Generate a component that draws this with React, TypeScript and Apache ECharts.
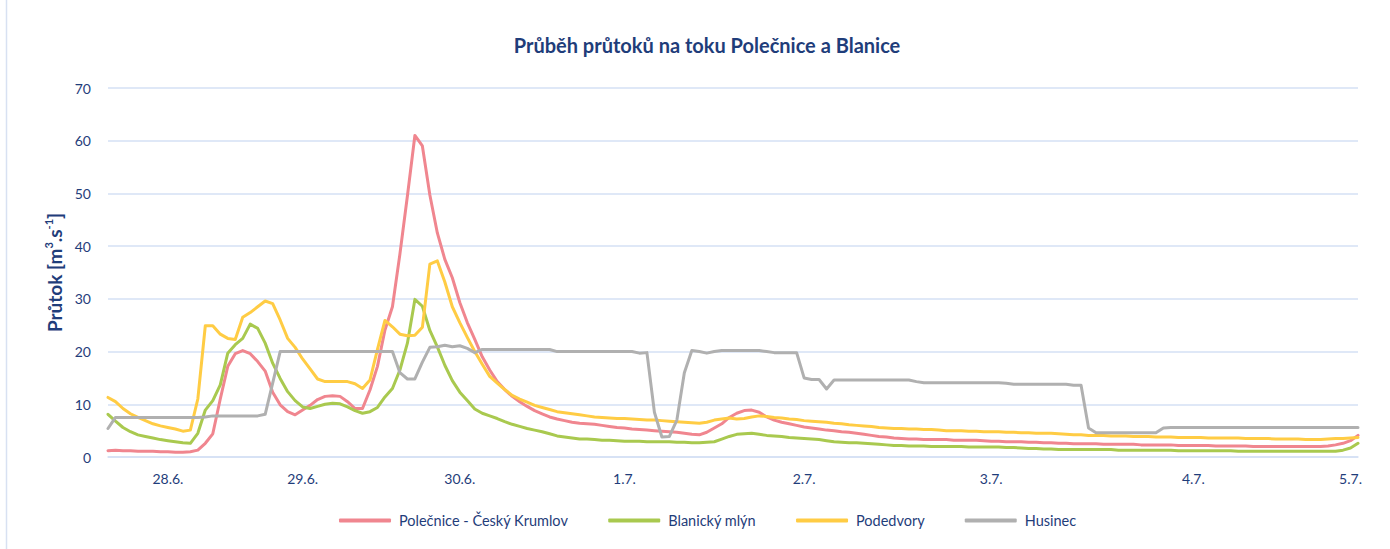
import React, { useEffect, useRef } from "react";
import * as echarts from "echarts";

const dayLabels = ["28.6.", "29.6.", "30.6.", "1.7.", "2.7.", "3.7.", "4.7.", "5.7."];
const dayLabelIndex = [8, 26, 47, 69, 93, 118, 145, 166];

const seriesNames = ["Polečnice - Český Krumlov", "Blanický mlýn", "Podedvory", "Husinec"];
const seriesColors = ["#f0868f", "#a9c94f", "#ffcc44", "#b0b0b0"];

const polecnice = [
  1.2, 1.3, 1.2, 1.2, 1.1, 1.1, 1.1, 1.0, 1.0, 0.9,
  0.9, 1.0, 1.3, 2.6, 4.4, 11.0, 17.2, 19.6, 20.2, 19.6,
  18.1, 16.3, 12.3, 9.9, 8.6, 8.0, 8.9, 9.8, 10.9, 11.5,
  11.6, 11.5, 10.5, 9.2, 9.2, 12.7, 17.2, 24.1, 28.5, 38.5,
  49.5, 61.0, 59.0, 49.7, 42.5, 37.5, 34.0, 29.3, 25.5, 22.3,
  19.0, 16.5, 14.3, 12.8, 11.5, 10.5, 9.6, 8.8, 8.2, 7.6,
  7.2, 6.9, 6.6, 6.4, 6.3, 6.2, 6.0, 5.8, 5.6, 5.5,
  5.3, 5.2, 5.1, 5.0, 4.9, 4.8, 4.7, 4.5, 4.3, 4.2,
  4.7, 5.5, 6.3, 7.5, 8.3, 8.8, 8.9, 8.5, 7.6, 7.0,
  6.6, 6.3, 6.0, 5.7, 5.5, 5.3, 5.1, 5.0, 4.8, 4.7,
  4.5, 4.3, 4.1, 3.9, 3.8, 3.6, 3.5, 3.4, 3.4, 3.3,
  3.3, 3.3, 3.3, 3.2, 3.2, 3.2, 3.2, 3.1, 3.0, 3.0,
  2.9, 2.9, 2.9, 2.8, 2.8, 2.7, 2.7, 2.6, 2.6, 2.5,
  2.5, 2.5, 2.5, 2.4, 2.4, 2.4, 2.4, 2.4, 2.3, 2.3,
  2.3, 2.3, 2.3, 2.2, 2.2, 2.2, 2.2, 2.2, 2.1, 2.1,
  2.1, 2.1, 2.1, 2.0, 2.0, 2.0, 2.0, 2.0, 2.0, 2.0,
  2.0, 2.0, 2.0, 2.1, 2.3, 2.6, 3.1, 4.1,
];

const blanickyMlyn = [
  8.1, 6.8, 5.6, 4.8, 4.2, 3.9, 3.6, 3.3, 3.1, 2.9,
  2.7, 2.6, 4.5, 8.9, 10.7, 13.7, 19.7, 21.3, 22.5, 25.2,
  24.4, 21.6, 17.8, 14.9, 12.4, 10.7, 9.5, 9.2, 9.6, 10.0,
  10.2, 10.1, 9.5, 8.8, 8.3, 8.6, 9.4, 11.4, 13.0, 16.5,
  21.6, 29.9, 28.6, 24.0, 20.9, 17.4, 14.5, 12.3, 10.7, 9.1,
  8.3, 7.8, 7.3, 6.7, 6.2, 5.8, 5.4, 5.1, 4.8, 4.4,
  4.0, 3.8, 3.6, 3.4, 3.4, 3.3, 3.2, 3.2, 3.1, 3.0,
  3.0, 3.0, 2.9, 2.9, 2.9, 2.9, 2.8, 2.8, 2.7, 2.7,
  2.8, 2.9, 3.4, 3.9, 4.3, 4.4, 4.5, 4.3, 4.1, 4.0,
  3.9, 3.7, 3.6, 3.5, 3.4, 3.3, 3.1, 2.9, 2.8, 2.7,
  2.7, 2.6, 2.5, 2.4, 2.3, 2.2, 2.2, 2.1, 2.1, 2.1,
  2.0, 2.0, 2.0, 2.0, 2.0, 1.9, 1.9, 1.9, 1.9, 1.9,
  1.8, 1.8, 1.7, 1.6, 1.6, 1.5, 1.5, 1.4, 1.4, 1.4,
  1.4, 1.4, 1.4, 1.4, 1.4, 1.3, 1.3, 1.3, 1.3, 1.3,
  1.3, 1.3, 1.3, 1.2, 1.2, 1.2, 1.2, 1.2, 1.2, 1.2,
  1.2, 1.1, 1.1, 1.1, 1.1, 1.1, 1.1, 1.1, 1.1, 1.1,
  1.1, 1.1, 1.1, 1.1, 1.1, 1.3, 1.7, 2.6,
];

const podedvory = [
  11.3, 10.5, 9.2, 8.2, 7.5, 6.9, 6.3, 5.9, 5.6, 5.3,
  4.9, 5.1, 11.0, 24.9, 24.9, 23.3, 22.5, 22.3, 26.5, 27.4,
  28.5, 29.6, 29.1, 26.0, 22.5, 20.8, 18.6, 16.7, 14.8, 14.3,
  14.3, 14.3, 14.3, 13.9, 13.0, 14.6, 20.4, 25.9, 24.7, 23.3,
  23.0, 23.1, 24.6, 36.6, 37.2, 33.2, 28.5, 25.5, 22.7, 20.0,
  17.6, 15.3, 14.0, 12.8, 11.7, 11.0, 10.4, 9.8, 9.4, 9.0,
  8.6, 8.4, 8.2, 8.0, 7.8, 7.6, 7.5, 7.4, 7.3, 7.3,
  7.2, 7.1, 7.0, 7.0, 6.9, 6.8, 6.7, 6.6, 6.5, 6.4,
  6.6, 7.0, 7.2, 7.4, 7.2, 7.3, 7.6, 7.8, 7.7, 7.5,
  7.4, 7.2, 7.1, 6.9, 6.8, 6.7, 6.6, 6.4, 6.3, 6.1,
  6.0, 5.9, 5.8, 5.6, 5.5, 5.4, 5.4, 5.3, 5.3, 5.2,
  5.2, 5.1, 5.0, 5.0, 5.0, 4.9, 4.9, 4.8, 4.8, 4.8,
  4.7, 4.7, 4.6, 4.6, 4.5, 4.5, 4.5, 4.4, 4.3, 4.2,
  4.2, 4.1, 4.1, 4.1, 4.0, 4.0, 4.0, 3.9, 3.9, 3.9,
  3.8, 3.8, 3.8, 3.7, 3.7, 3.7, 3.7, 3.6, 3.6, 3.6,
  3.6, 3.6, 3.5, 3.5, 3.5, 3.5, 3.4, 3.4, 3.4, 3.4,
  3.3, 3.3, 3.3, 3.4, 3.5, 3.5, 3.6, 3.7,
];

const husinec = [
  5.4, 7.5, 7.5, 7.5, 7.5, 7.5, 7.5, 7.5, 7.5, 7.5,
  7.5, 7.5, 7.5, 7.6, 7.8, 7.8, 7.8, 7.8, 7.8, 7.8,
  7.8, 8.1, 14.0, 20.0, 20.0, 20.0, 20.0, 20.0, 20.0, 20.0,
  20.0, 20.0, 20.0, 20.0, 20.0, 20.0, 20.0, 20.0, 20.0, 16.0,
  14.8, 14.8, 18.0, 20.8, 20.9, 21.2, 20.9, 21.1, 20.6, 19.8,
  20.4, 20.4, 20.4, 20.4, 20.4, 20.4, 20.4, 20.4, 20.4, 20.4,
  20.0, 20.0, 20.0, 20.0, 20.0, 20.0, 20.0, 20.0, 20.0, 20.0,
  20.0, 19.7, 19.8, 8.5, 3.8, 3.9, 7.0, 16.0, 20.2, 20.0,
  19.7, 20.0, 20.2, 20.2, 20.2, 20.2, 20.2, 20.2, 20.0, 19.8,
  19.8, 19.8, 19.8, 15.0, 14.7, 14.7, 12.9, 14.6, 14.6, 14.6,
  14.6, 14.6, 14.6, 14.6, 14.6, 14.6, 14.6, 14.6, 14.3, 14.1,
  14.1, 14.1, 14.1, 14.1, 14.1, 14.1, 14.1, 14.1, 14.1, 14.1,
  14.0, 13.8, 13.8, 13.8, 13.8, 13.8, 13.8, 13.8, 13.8, 13.6,
  13.6, 5.5, 4.6, 4.6, 4.6, 4.6, 4.6, 4.6, 4.6, 4.6,
  4.6, 5.5, 5.6, 5.6, 5.6, 5.6, 5.6, 5.6, 5.6, 5.6,
  5.6, 5.6, 5.6, 5.6, 5.6, 5.6, 5.6, 5.6, 5.6, 5.6,
  5.6, 5.6, 5.6, 5.6, 5.6, 5.6, 5.6, 5.6,
];

const seriesData = [polecnice, blanickyMlyn, podedvory, husinec];

const TEXT = "#1f3d7a";
const GRID = "#d5e0f5";
const FONT = "Lato, 'Noto Sans', sans-serif";

export default function App() {
  const ref = useRef<HTMLDivElement>(null);

  useEffect(() => {
    if (!ref.current) return;
    const chart = echarts.init(ref.current, undefined, { renderer: "svg" });
    const categories = polecnice.map((_, i) => {
      const k = dayLabelIndex.indexOf(i);
      return k >= 0 ? dayLabels[k] : String(i);
    });
    chart.setOption({
      animation: false,
      backgroundColor: "#ffffff",
      textStyle: { fontFamily: FONT },
      title: {
        text: "Průběh průtoků na toku Polečnice a Blanice",
        left: 702,
        textAlign: "center",
        top: 30,
        textStyle: { color: TEXT, fontSize: 20, fontWeight: "bold", fontFamily: FONT },
      },
      graphic: [
        {
          type: "line",
          shape: { x1: 6.5, y1: 0, x2: 6.5, y2: 549 },
          style: { stroke: "#d8e1f2", lineWidth: 1.5 },
          silent: true,
        },
      ],
      legend: {
        data: seriesNames,
        bottom: 16,
        left: 334,
        icon: "roundRect",
        itemWidth: 52,
        itemHeight: 4,
        itemGap: 40,
        textStyle: { color: TEXT, fontSize: 14.5, fontFamily: FONT, padding: [0, 0, 0, 3] },
      },
      grid: { left: 108, right: 32, top: 88, bottom: 92, containLabel: false },
      xAxis: {
        type: "category",
        data: categories,
        boundaryGap: false,
        axisLine: { show: true, lineStyle: { color: GRID, width: 1.5 } },
        axisTick: { show: false },
        splitLine: { show: false },
        axisLabel: {
          interval: (index: number) => dayLabelIndex.indexOf(index) >= 0,
          color: TEXT,
          fontSize: 14,
          margin: 14,
          fontFamily: FONT,
        },
      },
      yAxis: {
        type: "value",
        min: 0,
        max: 70,
        interval: 10,
        axisLine: { show: false },
        axisTick: { show: false },
        splitLine: { show: true, lineStyle: { color: GRID, width: 1.5 } },
        axisLabel: { color: TEXT, fontSize: 14, margin: 17, fontFamily: FONT },
        name: "Průtok [m{sup|3}.s{sup|-1}]",
        nameLocation: "middle",
        nameRotate: 90,
        nameGap: 43,
        nameTextStyle: {
          color: TEXT,
          fontSize: 19,
          fontWeight: "bold",
          fontFamily: FONT,
          rich: {
            sup: {
              color: TEXT,
              fontSize: 11,
              fontWeight: "bold",
              fontFamily: FONT,
              verticalAlign: "top",
              lineHeight: 22,
            },
          },
        },
      },
      series: seriesNames.map((name, idx) => ({
        name,
        type: "line",
        data: seriesData[idx],
        symbol: "none",
        smooth: false,
        lineStyle: { color: seriesColors[idx], width: 3, join: "round", cap: "round" },
        itemStyle: { color: seriesColors[idx] },
      })),
    });
    return () => chart.dispose();
  }, []);

  return (
    <div
      ref={ref}
      style={{ position: "absolute", left: 0, top: 0, width: 1390, height: 549 }}
    />
  );
}
